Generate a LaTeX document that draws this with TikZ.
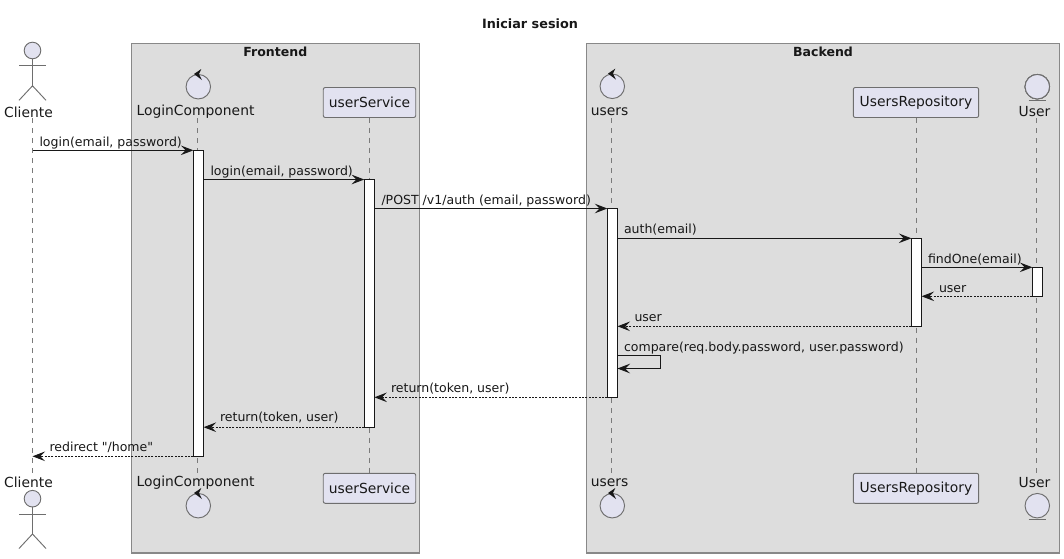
\documentclass[tikz,border=0pt]{standalone}
\usepackage{fontspec}
\setmainfont{DejaVu Sans}
\newfontfamily\msgfont{DejaVu Sans}
\usepackage{tikz}
\usetikzlibrary{arrows.meta, positioning}
\definecolor{partfill}{HTML}{E2E2F0}
\definecolor{partline}{HTML}{6E6E6E}
\definecolor{boxfill}{HTML}{DDDDDD}
\definecolor{boxline}{HTML}{888888}
\definecolor{inkline}{HTML}{181818}
\tikzset{
    every node/.style={inner sep=0pt, outer sep=0pt, text=inkline},
    groupbox/.style={rectangle, draw=boxline, fill=boxfill, line width=.85pt, anchor=north west},
    participant/.style={rectangle, rounded corners=1.5pt, draw=partline, fill=partfill, line width=.7pt, minimum width=92.5*.75pt, minimum height=30*.75pt, font=\fontsize{10.4pt}{12pt}\selectfont},
    roundpart/.style={circle, draw=partline, fill=partfill, line width=.7pt, minimum size=24.5*.75pt},
    partlabel/.style={font=\fontsize{10.4pt}{12pt}\selectfont},
    grouplabel/.style={font=\fontsize{9.4pt}{12pt}\selectfont\bfseries},
    msglabel/.style={font=\msgfont\fontsize{9.4pt}{11pt}\selectfont, anchor=base west},
    lifeline/.style={draw=boxline!90!black, line width=.6pt, dash pattern=on 3.75pt off 3.75pt},
    activation/.style={rectangle, draw=inkline, fill=white, line width=.75pt, anchor=north west},
    callarrow/.style={draw=inkline, line width=.7pt, -{Stealth[length=9.4pt, width=7.2pt, inset=3.6pt]}},
    replyarrow/.style={callarrow, dash pattern=on 1.5pt off 1pt},
    stickman/.style={draw=partline, line width=.7pt}
}
\newcommand{\actorman}[2]{% head centre, then name
    \node (#2) [roundpart, minimum size=16.6*.75pt] at #1 {};
    \draw [stickman] (#2.south) -- ++(0,27) coordinate (#2hip) ++(-13.5,-20) -- ++(27,0);
    \draw [stickman] (#2hip) ++(-13.5,14.5) -- (#2hip) -- ++(13.5,14.5);
}
\newcommand{\ctrlarrow}[1]{% arrow on top of a control circle
    \fill [inkline] (#1.center) ++(-4.3,-12.7) -- ++(7.3,-5) -- ++(-2.3,5) -- ++(3,6) -- cycle;
}
\begin{document}
\begin{tikzpicture}[x=.75pt, y=-.75pt]
    \useasboundingbox (0,0) rectangle (1064,558);

    % Title and groups
    \node (title) [font=\fontsize{9.6pt}{12pt}\selectfont\bfseries] at (530,24) {Iniciar sesion};
    \node (frontend) [groupbox, minimum width=288*.75pt, minimum height=509.7*.75pt] at (131.4,43.3) {};
    \node (backend) [groupbox, minimum width=473*.75pt, minimum height=509.7*.75pt] at (586.6,43.3) {};
    \node (frontendLabel) [grouplabel] at (275.3,51.5) {Frontend};
    \node (backendLabel) [grouplabel] at (823,51.5) {Backend};

    % Lifeline ends
    \coordinate (cliTop) at (32.5,118);
    \coordinate (cliBot) at (32.5,473);
    \coordinate (loginTop) at (197.5,118);
    \coordinate (loginBot) at (197.5,473);
    \coordinate (usersTop) at (611.5,118);
    \coordinate (usersBot) at (611.5,473);
    \coordinate (userTop) at (1036.7,118);
    \coordinate (userBot) at (1036.7,473);

    % Participants on top
    \node (serviceTop) [participant] at (369.5,102.5) {userService};
    \node (repoTop) [participant, minimum width=125.4*.75pt] at (916,102.5) {UsersRepository};
    \node (serviceBot) [participant] at (369.5,488.3) {userService};
    \node (repoBot) [participant, minimum width=125.4*.75pt] at (916,488.3) {UsersRepository};

    % Lifelines
    \draw [lifeline] (cliTop) -- (cliBot);
    \draw [lifeline] (loginTop) -- (loginBot);
    \draw [lifeline] (serviceTop) -- (serviceBot);
    \draw [lifeline] (usersTop) -- (usersBot);
    \draw [lifeline] (repoTop) -- (repoBot);
    \draw [lifeline] (userTop) -- (userBot);

    % Actors, controls, entities
    \actorman{(32.5,50.5)}{actorTop}
    \actorman{(32.5,498.7)}{actorBot}
    \node (ctrlLoginTop) [roundpart] at (198.3,86.7) {};
    \node (ctrlLoginBot) [roundpart] at (198.3,505.7) {};
    \node (ctrlUsersTop) [roundpart] at (612.3,86.3) {};
    \node (ctrlUsersBot) [roundpart] at (612.3,505.7) {};
    \foreach \c in {ctrlLoginTop, ctrlLoginBot, ctrlUsersTop, ctrlUsersBot}
        \ctrlarrow{\c}
    \node (entityTop) [roundpart] at (1037.3,86.7) {};
    \node (entityBot) [roundpart] at (1037.3,505.7) {};
    \draw [stickman] (entityTop.south west |- 0,100.3) -- (entityTop.south east |- 0,100.3);
    \draw [stickman] (entityBot.south west |- 0,519.3) -- (entityBot.south east |- 0,519.3);

    % Names
    \node (cliName) [partlabel] at (28.5,112) {Cliente};
    \node (loginName) [partlabel] at (195.5,112) {LoginComponent};
    \node (usersName) [partlabel] at (609.5,112) {users};
    \node (userName) [partlabel] at (1034.5,112) {User};
    \node (cliNameBot) [partlabel] at (28.5,482.5) {Cliente};
    \node (loginNameBot) [partlabel] at (195.5,482.5) {LoginComponent};
    \node (usersNameBot) [partlabel] at (609.5,482.5) {users};
    \node (userNameBot) [partlabel] at (1034.5,482.5) {User};

    % Activation bars
    \node (actLogin) [activation, minimum width=10.2*.75pt, minimum height=306*.75pt] at (193.4,150.3) {};
    \node (actService) [activation, minimum width=10.2*.75pt, minimum height=247.7*.75pt] at (364.2,179.5) {};
    \node (actUsers) [activation, minimum width=10.2*.75pt, minimum height=188.8*.75pt] at (607.3,208.5) {};
    \node (actRepo) [activation, minimum width=10.2*.75pt, minimum height=88*.75pt] at (911.4,238.3) {};
    \node (actUser) [activation, minimum width=10.2*.75pt, minimum height=29*.75pt] at (1032.4,267.3) {};

    % Calls
    \draw [callarrow] (cliTop |- actLogin.north) -- (actLogin.north west);
    \draw [callarrow] (actLogin.east |- actService.north) -- (actService.north west);
    \draw [callarrow] (actService.east |- actUsers.north) -- (actUsers.north west);
    \draw [callarrow] (actUsers.east |- actRepo.north) -- (actRepo.north west);
    \draw [callarrow] (actRepo.east |- actUser.north) -- (actUser.north west);
    \draw [callarrow] (actUsers.east |- 0,355.5) -- ++(42.5,0) -- ++(0,13) -- (actUsers.east |- 0,368.5);

    % Replies
    \draw [replyarrow] (actUser.south west) -- (actRepo.east |- actUser.south);
    \draw [replyarrow] (actRepo.south west) -- (actUsers.east |- actRepo.south);
    \draw [replyarrow] (actUsers.south west) -- (actService.east |- actUsers.south);
    \draw [replyarrow] (actService.south west) -- (actLogin.east |- actService.south);
    \draw [replyarrow] (actLogin.south west) -- (cliBot |- actLogin.south);

    % Message labels
    \node (msgLogin) [msglabel] at (39.5,146) {login(email, password)};
    \node (msgLoginTwo) [msglabel] at (210.5,175) {login(email, password)};
    \node (msgPost) [msglabel] at (381.5,204) {/POST /v1/auth (email, password)};
    \node (msgAuth) [msglabel] at (624,233.5) {auth(email)};
    \node (msgFind) [msglabel] at (928,263) {findOne(email)};
    \node (msgUser) [msglabel] at (939,292) {user};
    \node (msgUserTwo) [msglabel] at (634.5,321) {user};
    \node (msgCompare) [msglabel] at (624,351) {compare(req.body.password, user.password)};
    \node (msgReturn) [msglabel] at (391,392.5) {return(token, user)};
    \node (msgReturnTwo) [msglabel] at (220,421.5) {return(token, user)};
    \node (msgRedirect) [msglabel] at (49.5,451.5) {redirect "/home"};
\end{tikzpicture}
\end{document}
